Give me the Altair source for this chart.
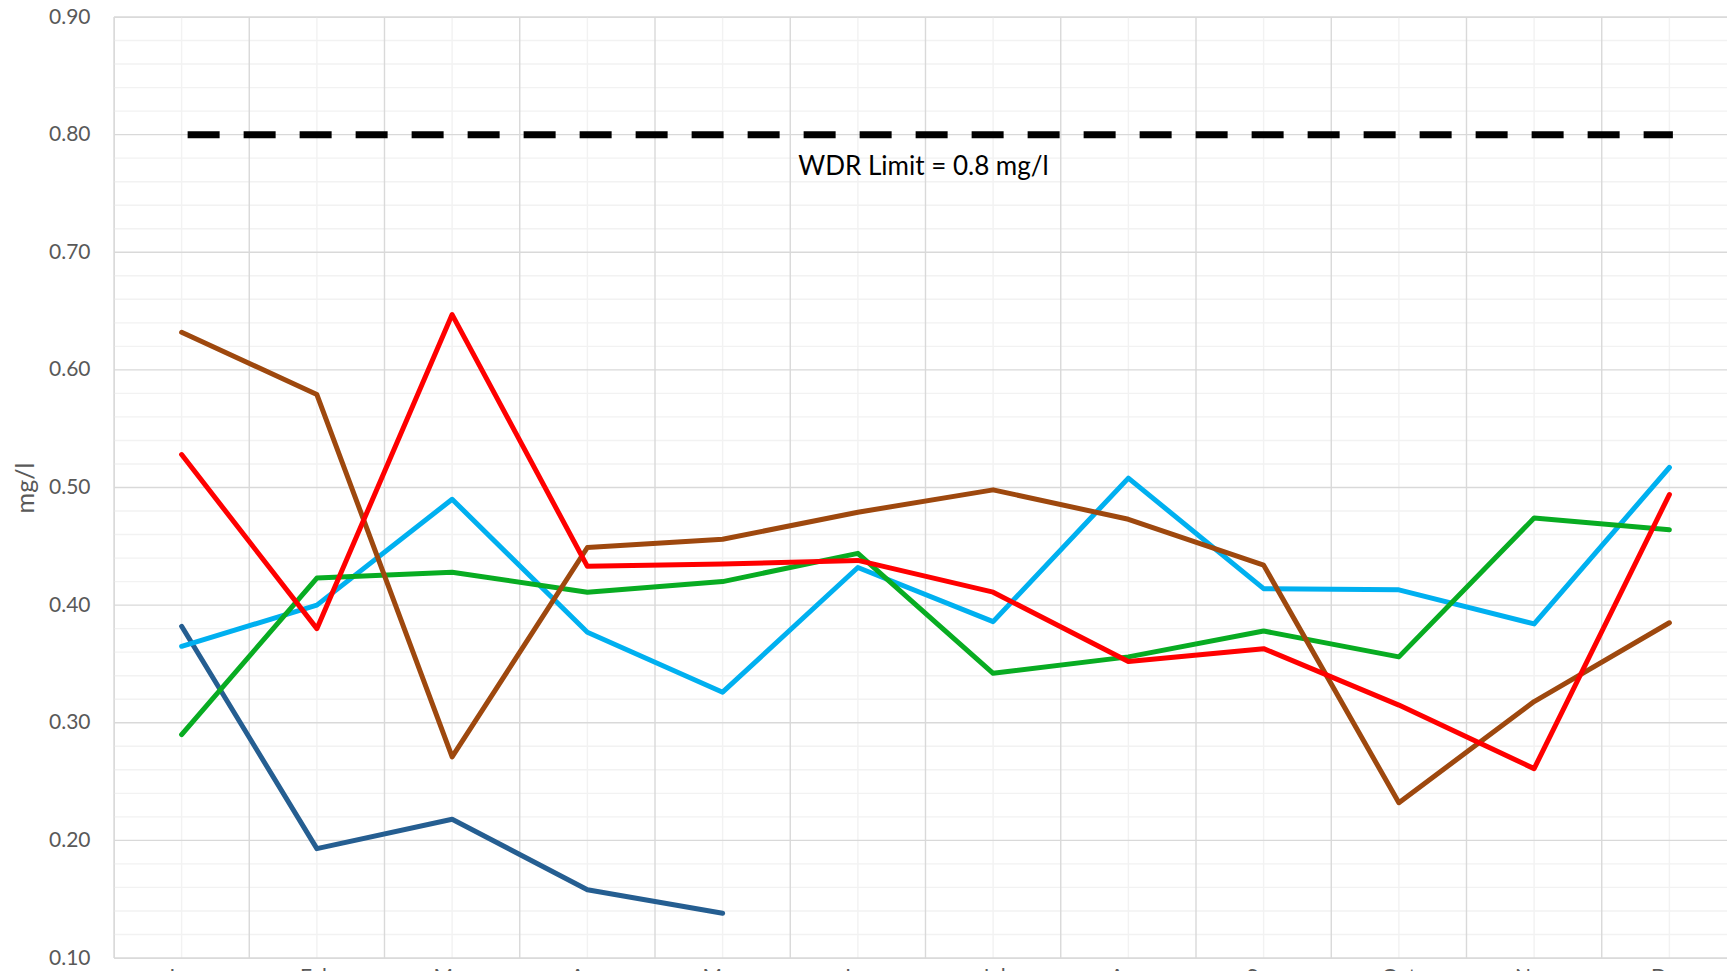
import altair as alt
import pandas as pd

months = ["Jan", "Feb", "Mar", "Apr", "May", "Jun", "Jul", "Aug", "Sep", "Oct", "Nov", "Dec"]

dark_blue = [0.382, 0.193, 0.218, 0.158, 0.138]
light_blue = [0.365, 0.400, 0.490, 0.377, 0.326, 0.432, 0.386, 0.508, 0.414, 0.413, 0.384, 0.517]
green = [0.290, 0.423, 0.428, 0.411, 0.420, 0.444, 0.342, 0.356, 0.378, 0.356, 0.474, 0.464]
brown = [0.632, 0.579, 0.271, 0.449, 0.456, 0.479, 0.498, 0.473, 0.434, 0.232, 0.318, 0.385]
red = [0.528, 0.380, 0.647, 0.433, 0.435, 0.438, 0.411, 0.352, 0.363, 0.315, 0.261, 0.494]

series_order = ["Series 1", "Series 2", "Series 3", "Series 4", "Series 5"]
series_values = [dark_blue, light_blue, green, brown, red]
series_colors = ["#255E91", "#00B0F0", "#08AC22", "#9E480E", "#FF0000"]

limit_months = ["Jan", "Dec"]
limit_values = [0.8, 0.8]
limit_label = "WDR Limit = 0.8 mg/l"

major_y = [0.10, 0.20, 0.30, 0.40, 0.50, 0.60, 0.70, 0.80, 0.90]
minor_y = [0.12, 0.14, 0.16, 0.18, 0.22, 0.24, 0.26, 0.28, 0.32, 0.34, 0.36, 0.38,
           0.42, 0.44, 0.46, 0.48, 0.52, 0.54, 0.56, 0.58, 0.62, 0.64, 0.66, 0.68,
           0.72, 0.74, 0.76, 0.78, 0.82, 0.84, 0.86, 0.88]

FONT = "Lato"
LABEL_COLOR = "#595959"

x_scale = alt.Scale(domain=months, paddingInner=0, paddingOuter=0, range=[0, 1623])
y_scale = alt.Scale(domain=[0.1, 0.9], nice=False, zero=False)

x_axis = alt.Axis(title="", labelFont=FONT, labelFontSize=21, labelColor=LABEL_COLOR,
                  ticks=False, domain=False, grid=False, labelPadding=8, labelAngle=0)
y_axis = alt.Axis(title="mg/l", values=major_y, format=".2f", labelFont=FONT,
                  labelFontSize=21, labelColor=LABEL_COLOR, labelPadding=24,
                  ticks=False, domain=False, grid=False,
                  titleFont=FONT, titleFontSize=25, titleFontWeight="normal",
                  titleColor=LABEL_COLOR, titleX=-81, titleY=470.5,
                  titleBaseline="alphabetic", titleAlign="center")


def xenc(field="month", band=0.5):
    return alt.X(f"{field}:N", scale=x_scale, axis=x_axis, sort=months, bandPosition=band)


def yenc(field="value"):
    return alt.Y(f"{field}:Q", scale=y_scale, axis=y_axis)


minor_y_df = pd.DataFrame({"value": minor_y})
major_y_df = pd.DataFrame({"value": major_y})
months_df = pd.DataFrame({"month": months})

minor_h = alt.Chart(minor_y_df).mark_rule(color="#F2F2F2", strokeWidth=1.4).encode(y=yenc())
minor_v = alt.Chart(months_df).mark_rule(color="#F2F2F2", strokeWidth=1.4).encode(x=xenc(band=0.5))
major_h = alt.Chart(major_y_df).mark_rule(color="#D9D9D9", strokeWidth=1.4).encode(y=yenc())
major_v = alt.Chart(months_df).mark_rule(color="#D9D9D9", strokeWidth=1.4).encode(x=xenc(band=0))

limit_df = pd.DataFrame({"month": limit_months, "value": limit_values})
limit_line = alt.Chart(limit_df).mark_line(
    color="black", strokeWidth=7, strokeDash=[25, 31], strokeDashOffset=46.5, strokeCap="square"
).encode(x=xenc(), y=yenc())

label_df = pd.DataFrame({"month": ["Jun"], "value": [0.8], "text": [limit_label]})
limit_text = alt.Chart(label_df).mark_text(
    font=FONT, fontSize=26, color="black", align="center", baseline="alphabetic", dx=-2, dy=40
).encode(x=xenc(band=1), y=yenc(), text="text:N")

line_layers = []
for name, vals, col in zip(series_order, series_values, series_colors):
    df = pd.DataFrame({"month": months[:len(vals)], "value": vals})
    line_layers.append(
        alt.Chart(df).mark_line(color=col, strokeWidth=5, strokeCap="round", strokeJoin="round")
        .encode(x=xenc(), y=yenc())
    )

chart = alt.layer(minor_h, minor_v, major_h, major_v, limit_line, limit_text, *line_layers).properties(
    width=1613, height=941,
    autosize=alt.AutoSizeParams(type="none"),
    padding={"left": 106, "top": 9, "right": 0, "bottom": 14},
).configure_view(strokeWidth=0).configure(background="white")

chart.save("out.html", embed_options={"renderer": "svg", "actions": False})
